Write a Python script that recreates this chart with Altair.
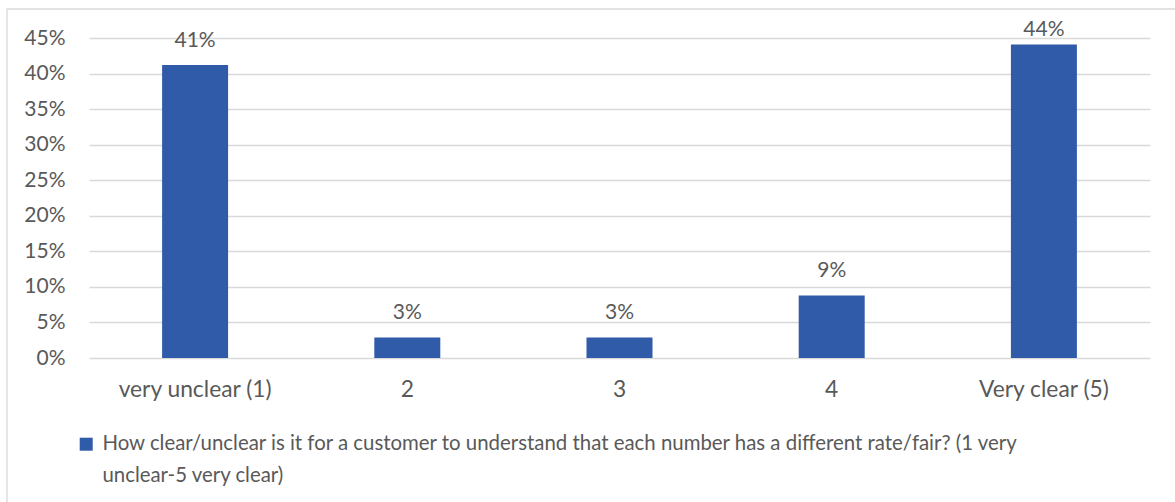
import json

import altair as alt
import pandas as pd

# Survey answers (share of respondents per answer)
CATEGORIES = ["very unclear (1)", "2", "3", "4", "Very clear (5)"]
SHARES = [0.412, 0.029, 0.029, 0.088, 0.441]
SERIES_NAME = ("How clear/unclear is it for a customer to understand that each number "
               "has a different rate/fair? (1 very unclear-5 very clear)")
LEGEND_LINES = [
    "How clear/unclear is it for a customer to understand that each number has a different rate/fair? (1 very",
    "unclear-5 very clear)",
]
Y_TICKS = [0.0, 0.05, 0.10, 0.15, 0.20, 0.25, 0.30, 0.35, 0.40, 0.45]

BAR_COLOR = "#2F5BA8"
TEXT_COLOR = "#595959"
GRID_COLOR = "#D9D9D9"
FONT = "Lato"

W, H = 1061, 320

df = pd.DataFrame({"answer": CATEGORIES, "share": SHARES, "series": SERIES_NAME})

x_enc = alt.X(
    "answer:N",
    sort=CATEGORIES,
    scale=alt.Scale(paddingInner=0.689, paddingOuter=0.3445),
    axis=alt.Axis(
        title=None, labelAngle=0, domain=False, ticks=False, grid=False,
        labelPadding=20, labelFont=FONT, labelFontSize=22.8, labelColor=TEXT_COLOR,
    ),
)
y_scale = alt.Scale(domain=[0, 0.45], nice=False)
y_axis = alt.Axis(
    title=None, values=Y_TICKS, format=".0%", domain=False, ticks=False,
    labelPadding=24, labelFont=FONT, labelFontSize=21, labelColor=TEXT_COLOR,
    grid=True, gridColor=GRID_COLOR, gridWidth=1.3,
)

bars = alt.Chart(df).mark_bar(color=BAR_COLOR).encode(
    x=x_enc,
    y=alt.Y("share:Q", scale=y_scale, axis=y_axis),
    color=alt.Color(
        "series:N",
        scale=alt.Scale(range=[BAR_COLOR]),
        legend=alt.Legend(
            title=None, orient="none", legendX=-13, legendY=396,
            symbolType="square", symbolSize=169, symbolStrokeWidth=0,
            labelExpr=json.dumps(LEGEND_LINES), labelLimit=0,
            labelFont=FONT, labelFontSize=20.4, labelColor=TEXT_COLOR,
            labelOffset=6, padding=0,
        ),
    ),
)

# Value labels sit above each bar, kept inside the top of the plot area
labels = alt.Chart(df).transform_calculate(
    label_y="min(datum.share + 0.0253, 0.453)"
).mark_text(
    baseline="alphabetic", font=FONT, fontSize=21, color=TEXT_COLOR
).encode(
    x=alt.X("answer:N", sort=CATEGORIES),
    y=alt.Y("label_y:Q", scale=y_scale, axis=y_axis),
    text=alt.Text("share:Q", format=".0%"),
)

# Light frame around the whole chart area
frame = alt.Chart(pd.DataFrame({"k": [0]})).mark_rect(
    fillOpacity=0, stroke=GRID_COLOR, strokeWidth=1.3
).encode(
    x=alt.value(-82), x2=alt.value(W + 60),
    y=alt.value(-29), y2=alt.value(H + 200),
)

chart = alt.layer(frame, bars, labels).properties(
    width=W, height=H,
    autosize=alt.AutoSizeParams(type="none"),
    padding={"left": 89, "top": 38, "right": 25, "bottom": 144},
    background="white",
).configure(
    style={"guide-label": {"lineHeight": 32}}
).configure_view(strokeWidth=0)

chart.save("out.html", embed_options={"renderer": "svg", "actions": False})
